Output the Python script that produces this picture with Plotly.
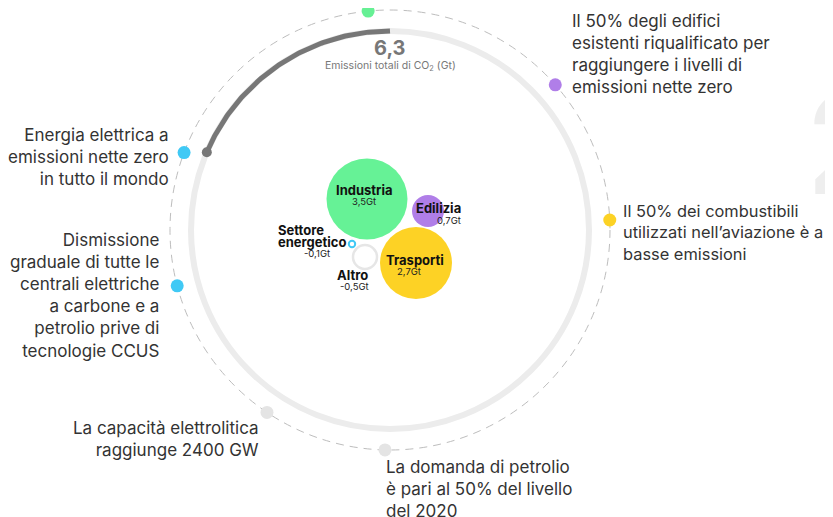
import numpy as np
import plotly.graph_objects as go

# ---------------- data ----------------
total_value = "6,3"
total_label = "Emissioni totali di CO<sub>2</sub> (Gt)"

sectors = ["Industria", "Edilizia", "Trasporti", "Altro", "Settore|energetico"]
sector_values = [3.5, 0.7, 2.7, -0.5, -0.1]
sector_value_labels = ["3,5Gt", "0,7Gt", "2,7Gt", "-0,5Gt", "-0,1Gt"]

milestones = [
    "",
    "Il 50% degli edifici<br>esistenti riqualificato per<br>raggiungere i livelli di<br>emissioni nette zero",
    "Il 50% dei combustibili<br>utilizzati nell’aviazione è a<br>basse emissioni",
    "Energia elettrica a<br>emissioni nette zero<br>in tutto il mondo",
    "Dismissione<br>graduale di tutte le<br>centrali elettriche<br>a carbone e a<br>petrolio prive di<br>tecnologie CCUS",
    "La capacità elettrolitica<br>raggiunge 2400 GW",
    "La domanda di petrolio<br>è pari al 50% del livello<br>del 2020",
]

# ---------------- layout / style ----------------
W, H = 833, 517
OFF = 8  # page body margin
CX, CY = 390, 230
R_DASH, R_RING = 220, 199
ARC_START, ARC_END = 90, 157  # degrees

milestone_angles = [95.7, 41.3, 2.6, 159.4, 194.7, 236.0, 268.7]
milestone_colors = ["#66f094", "#b07ee8", "#fcd225", "#40c9f5", "#40c9f5", "#e4e4e4", "#e4e4e4"]
# label anchor: (x, y_middle, side, font size)
milestone_label_pos = [None, (570, 53.5, "left", 17), (621, 232.5, "left", 16.4),
                       (171, 156.5, "right", 17), (161, 295, "right", 17),
                       (261, 438.5, "right", 17), (384, 488.5, "left", 17)]

sector_pos = [(367, 199), (428, 211), (416, 263), (365, 257), (352, 244)]
sector_radius = [40.5, 16, 36, 12, 3.2]
sector_fill = ["#66f296", "#b07ee8", "#fdd225", "#ffffff", "#ffffff"]
sector_line = ["#66f296", "#b07ee8", "#fdd225", "#e6e6e6", "#40c9f5"]
sector_line_w = [0, 0, 0, 2.5, 2]
# (x, y, anchor) for each line of the name
sector_name_pos = [[(364, 190, "center")], [(438, 208, "center")], [(415, 260, "center")],
                   [(352, 275, "center")], [(276, 230, "left"), (276, 242, "left")]]
sector_val_pos = [(364, 201), (449, 220), (409, 271), (354, 286), (317, 253)]

FONT = "Inter"
TXT = "#333333"

fig = go.Figure()
shapes = []
annotations = []

# big background "2"
annotations.append(dict(x=805, y=143, xref="x", yref="y", text="<b>2</b>", showarrow=False,
                        xanchor="left", yanchor="middle",
                        font=dict(family=FONT, size=138, color="#eeeeee")))

# outer dashed circle
shapes.append(dict(type="circle", xref="x", yref="y", x0=CX - R_DASH, x1=CX + R_DASH,
                   y0=CY - R_DASH, y1=CY + R_DASH,
                   line=dict(color="#bdbdbd", width=1, dash="8px,6px"), layer="below"))
# light ring
shapes.append(dict(type="circle", xref="x", yref="y", x0=CX - R_RING, x1=CX + R_RING,
                   y0=CY - R_RING, y1=CY + R_RING,
                   line=dict(color="#ececec", width=6), layer="below"))

# dark progress arc
t = np.radians(np.linspace(ARC_START, ARC_END, 120))
fig.add_trace(go.Scatter(x=CX + R_RING * np.cos(t), y=CY - R_RING * np.sin(t), mode="lines",
                         line=dict(color="#777777", width=5), hoverinfo="skip", showlegend=False))
te = np.radians(ARC_END)
fig.add_trace(go.Scatter(x=[CX + R_RING * np.cos(te)], y=[CY - R_RING * np.sin(te)], mode="markers",
                         marker=dict(color="#777777", size=10), hoverinfo="skip", showlegend=False))

# milestone dots
ang = np.radians(milestone_angles)
fig.add_trace(go.Scatter(x=CX + R_DASH * np.cos(ang), y=CY - R_DASH * np.sin(ang), mode="markers",
                         marker=dict(color=milestone_colors, size=13, line=dict(width=0)),
                         hoverinfo="skip", showlegend=False))
for txt, pos in zip(milestones, milestone_label_pos):
    if pos is None:
        continue
    x, y, side, fs = pos
    annotations.append(dict(x=x, y=y, xref="x", yref="y", text=txt, showarrow=False,
                            xanchor=side, yanchor="middle", align=side,
                            font=dict(family=FONT, size=fs, color=TXT)))

# total
annotations.append(dict(x=CX, y=48, xref="x", yref="y", text="<b>" + total_value + "</b>",
                        showarrow=False, xanchor="center", yanchor="middle",
                        font=dict(family=FONT, size=20, color="#777777")))
annotations.append(dict(x=CX, y=66, xref="x", yref="y", text=total_label,
                        showarrow=False, xanchor="center", yanchor="middle",
                        font=dict(family=FONT, size=10.5, color="#777777")))

# sector bubbles
for i in range(len(sectors)):
    x, y = sector_pos[i]
    r = sector_radius[i]
    shapes.append(dict(type="circle", xref="x", yref="y", x0=x - r, x1=x + r, y0=y - r, y1=y + r,
                       fillcolor=sector_fill[i],
                       line=dict(color=sector_line[i], width=sector_line_w[i])))
for i in range(len(sectors)):
    for part, (nx, ny, side) in zip(sectors[i].split("|"), sector_name_pos[i]):
        annotations.append(dict(x=nx, y=ny, xref="x", yref="y", text="<b>" + part + "</b>",
                                showarrow=False, xanchor=side, yanchor="middle", align=side,
                                font=dict(family=FONT, size=13, color="#111111")))
    vx, vy = sector_val_pos[i]
    annotations.append(dict(x=vx, y=vy, xref="x", yref="y", text=sector_value_labels[i],
                            showarrow=False, xanchor="center", yanchor="middle",
                            font=dict(family=FONT, size=9.5, color="#222222")))

fig.update_layout(
    width=W, height=H, margin=dict(l=0, r=0, t=0, b=0),
    paper_bgcolor="white", plot_bgcolor="white",
    xaxis=dict(range=[OFF, W + OFF], visible=False, fixedrange=True),
    yaxis=dict(range=[H + OFF, OFF], visible=False, fixedrange=True),
    shapes=shapes, annotations=annotations, showlegend=False,
)

# hide page scrollbars so the full window width is drawn
fig.write_html("out.html",
               post_script="document.documentElement.style.overflow='hidden';"
                           "document.body.style.overflow='hidden';")
